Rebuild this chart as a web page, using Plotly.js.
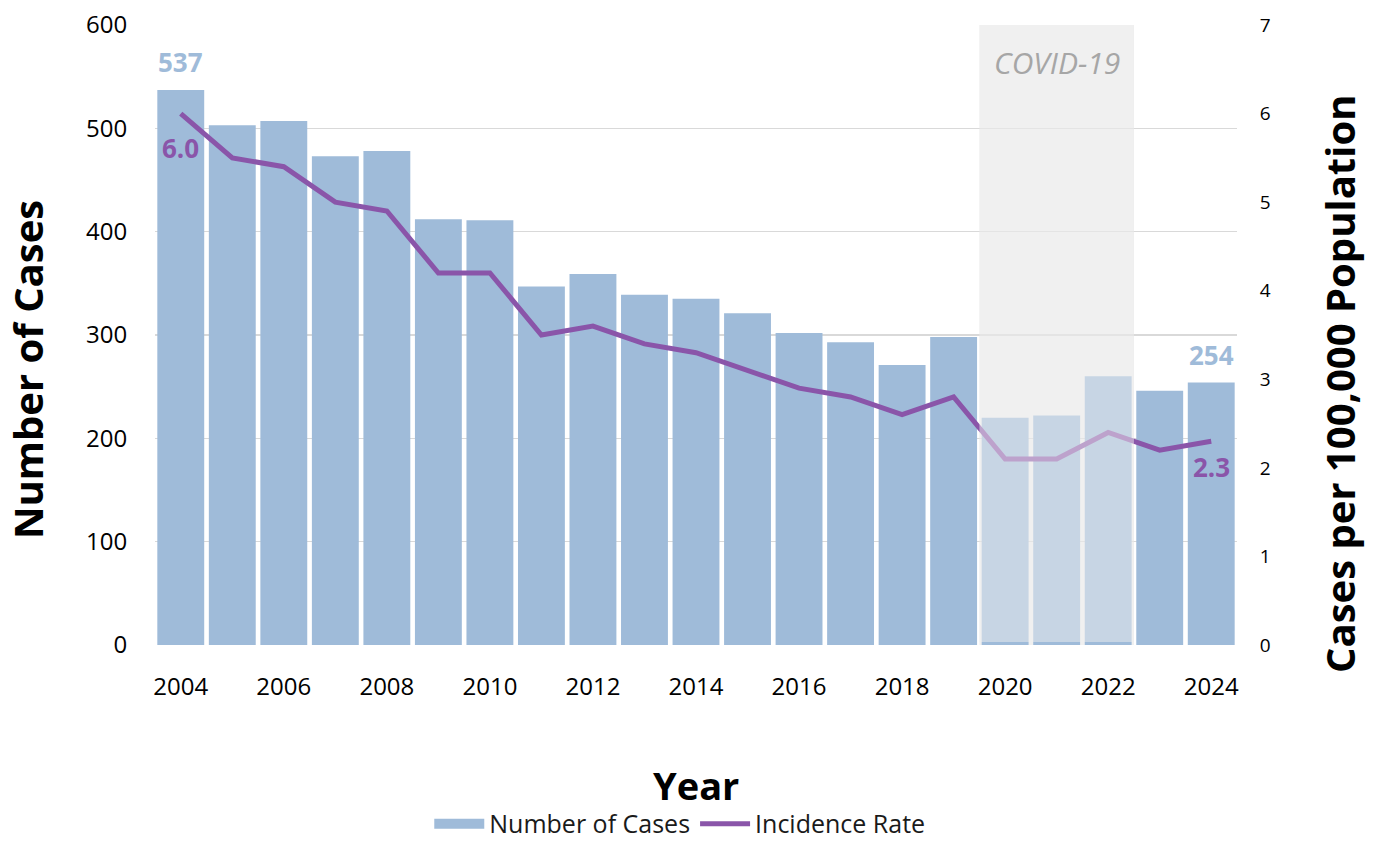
<!DOCTYPE html>
<html>
<head>
<meta charset="utf-8">
<script src="https://cdn.plot.ly/plotly-3.0.1.min.js"></script>
<style>
  html, body { margin: 0; padding: 0; background: #fff; }
  #chart { width: 1380px; height: 842px; }
</style>
</head>
<body>
<div id="chart"></div>
<script>
// values
var years = [2004, 2005, 2006, 2007, 2008, 2009, 2010, 2011, 2012, 2013, 2014,
             2015, 2016, 2017, 2018, 2019, 2020, 2021, 2022, 2023, 2024];
var cases = [537, 503, 507, 473, 478, 412, 411, 347, 359, 339, 335,
             321, 302, 293, 271, 298, 220, 222, 260, 246, 254];
var rate = [6.0, 5.5, 5.4, 5.0, 4.9, 4.2, 4.2, 3.5, 3.6, 3.4, 3.3,
            3.1, 2.9, 2.8, 2.6, 2.8, 2.1, 2.1, 2.4, 2.2, 2.3];
var covidYears = [2020, 2022];

var barColor = "#9fbbd9";
var lineColor = "#8a55a9";
var font = "Open Sans, Noto Sans, sans-serif";

var first = 0, last = years.length - 1;

var data = [
	{
		type: "bar",
		name: "Number of Cases",
		x: years,
		y: cases,
		marker: { color: barColor },
		showlegend: false
	},
	// legend-only entry so the swatch is a wide block like the original
	{
		type: "scatter",
		mode: "lines",
		name: "Number of Cases",
		x: [null],
		y: [null],
		line: { color: barColor, width: 16 }
	},
	{
		type: "scatter",
		mode: "lines",
		name: "Incidence Rate",
		x: years,
		y: rate,
		yaxis: "y2",
		line: { color: lineColor, width: 5 }
	}
];

var layout = {
	width: 1380,
	height: 842,
	margin: { l: 155, r: 143, t: 25, b: 197 },
	paper_bgcolor: "#fff",
	plot_bgcolor: "#fff",
	font: { family: font, size: 24, color: "#000" },
	showlegend: true,
	bargap: 0.09,
	legend: {
		orientation: "h",
		x: 0.485, xanchor: "center",
		yref: "container",
		y: 0.0214, yanchor: "middle",
		font: { size: 25, color: "#1a1a1a" },
		itemwidth: 50,
		traceorder: "normal"
	},
	xaxis: {
		range: [years[first] - 0.5, years[last] + 0.5],
		tick0: years[first],
		dtick: 2,
		automargin: false,
		ticks: "outside",
		ticklen: 20,
		tickcolor: "rgba(0,0,0,0)",
		showgrid: false,
		zeroline: false,
		showline: false
	},
	yaxis: {
		range: [0, 600],
		dtick: 100,
		automargin: false,
		gridcolor: "#d9d9d9",
		gridwidth: 1.5,
		zeroline: false,
		ticks: "outside",
		ticklen: 22,
		tickcolor: "rgba(0,0,0,0)"
	},
	yaxis2: {
		overlaying: "y",
		side: "right",
		range: [0, 7],
		dtick: 1,
		automargin: false,
		showgrid: false,
		zeroline: false,
		ticks: "outside",
		ticklen: 18,
		tickcolor: "rgba(0,0,0,0)",
		tickfont: { size: 19 }
	},
	shapes: [
		{
			type: "rect", layer: "below",
			xref: "x", yref: "paper",
			x0: covidYears[0] - 0.5, x1: covidYears[1] + 0.5, y0: 0, y1: 1,
			fillcolor: "#f0f0f0", line: { width: 0 }
		},
		{
			type: "rect", layer: "above",
			xref: "x", yref: "y",
			x0: covidYears[0] - 0.5, x1: covidYears[1] + 0.5, y0: 3, y1: 600,
			fillcolor: "rgba(240,240,240,0.5)", line: { width: 0 }
		}
	],
	annotations: [
		{
			text: "<b>Year</b>",
			xref: "paper", yref: "paper", x: 0.5, y: -0.2258,
			xanchor: "center", yanchor: "middle",
			showarrow: false, font: { size: 38, color: "#000" }
		},
		{
			text: "<b>Number of Cases</b>", textangle: -90,
			xref: "paper", yref: "paper", x: -0.1183, y: 0.445,
			xanchor: "center", yanchor: "middle",
			showarrow: false, font: { size: 40, color: "#000" }
		},
		{
			text: "<b>Cases per 100,000 Population</b>", textangle: -90,
			xref: "paper", yref: "paper", x: 1.0952, y: 0.421,
			xanchor: "center", yanchor: "middle",
			showarrow: false, font: { size: 40, color: "#000" }
		},
		{
			text: "<i>COVID-19</i>", xref: "x", yref: "paper",
			x: (covidYears[0] + covidYears[1]) / 2, y: 1, yanchor: "middle", yshift: -37,
			showarrow: false, font: { size: 30, color: "#a6a6a6" }
		},
		{
			text: "<b>" + cases[first] + "</b>", xref: "x", yref: "y",
			x: years[first], y: cases[first], yanchor: "bottom", yshift: 8,
			showarrow: false, font: { size: 26, color: barColor }
		},
		{
			text: "<b>" + cases[last] + "</b>", xref: "x", yref: "y",
			x: years[last], y: cases[last], yanchor: "bottom", yshift: 8,
			showarrow: false, font: { size: 26, color: barColor }
		},
		{
			text: "<b>" + rate[first].toFixed(1) + "</b>", xref: "x", yref: "y2",
			x: years[first], y: rate[first], yanchor: "top", yshift: -14,
			showarrow: false, font: { size: 26, color: lineColor }
		},
		{
			text: "<b>" + rate[last].toFixed(1) + "</b>", xref: "x", yref: "y2",
			x: years[last], y: rate[last], yanchor: "top", yshift: -6,
			showarrow: false, font: { size: 26, color: lineColor }
		}
	]
};

var config = { displayModeBar: false, staticPlot: true };

Plotly.newPlot("chart", data, layout, config);
</script>
</body>
</html>
